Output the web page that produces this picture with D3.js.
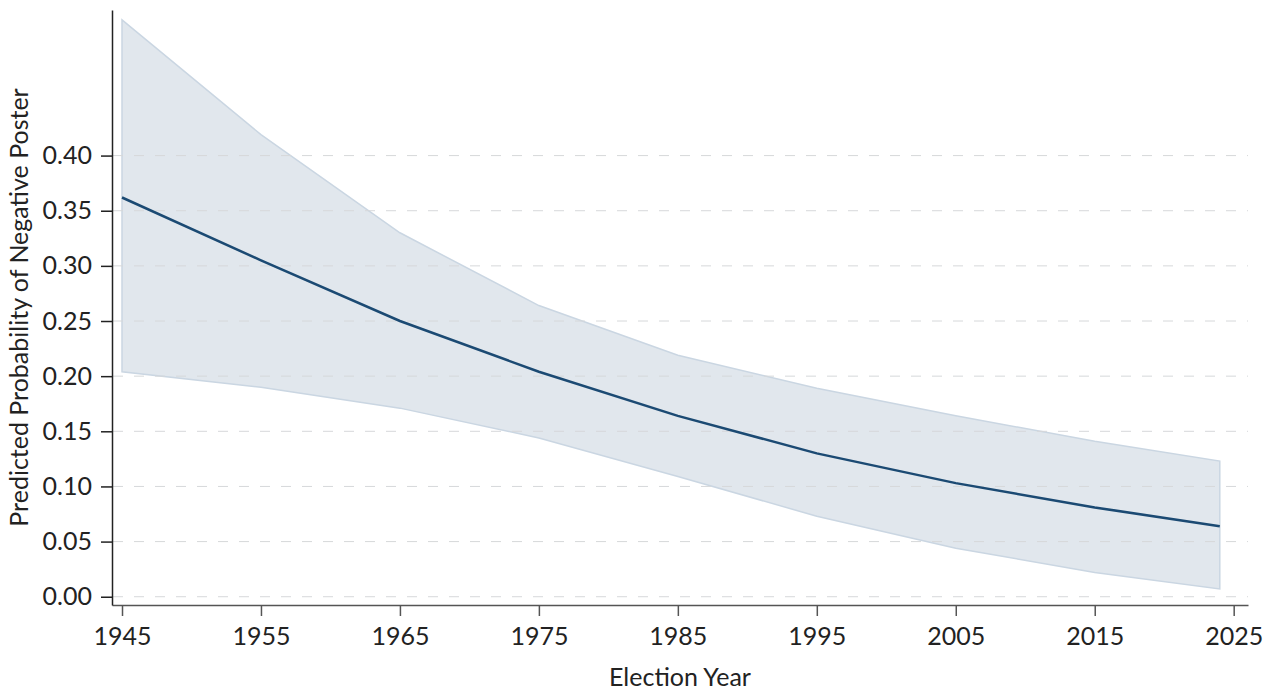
<!DOCTYPE html>
<html>
<head>
<meta charset="utf-8">
<script src="https://cdn.jsdelivr.net/npm/d3@7"></script>
<style>
  body { margin: 0; background: #fff; }
  text { font-family: Lato, "Open Sans", sans-serif; fill: #222; }
</style>
</head>
<body>
<div id="chart-area"></div>
<script>
// predicted probability by election year, with 95% band
const years = [1945, 1955, 1965, 1975, 1985, 1995, 2005, 2015, 2024];
const predicted = [0.362, 0.305, 0.250, 0.204, 0.164, 0.130, 0.103, 0.081, 0.064];
const upper = [0.523, 0.419, 0.330, 0.264, 0.219, 0.189, 0.164, 0.141, 0.123];
const lower = [0.204, 0.190, 0.171, 0.144, 0.109, 0.073, 0.044, 0.022, 0.007];

const xTicks = [1945, 1955, 1965, 1975, 1985, 1995, 2005, 2015, 2025];
const yTicks = [0, 0.05, 0.10, 0.15, 0.20, 0.25, 0.30, 0.35, 0.40];

const W = 1274, H = 691;
const LEFT = 112, RIGHT = 1248, TOP = 10, BOTTOM = 605;
const FONT = 25;

const svg = d3.select('#chart-area')
  .append('svg')
  .attr('width', W)
  .attr('height', H)

const x = d3.scaleLinear()
  .domain([1944.28, 2026.03])
  .range([LEFT, RIGHT])

const y = d3.scaleLinear()
  .domain([-0.0075, 0.532])
  .range([BOTTOM, TOP])

const data = years.map((yr, i) => ({year: yr, p: predicted[i], hi: upper[i], lo: lower[i]}));

// confidence band
const area = d3.area()
  .x(d => x(d.year))
  .y0(d => y(d.lo))
  .y1(d => y(d.hi))

svg.append('path')
  .datum(data)
  .attr('d', area)
  .attr('fill', '#e1e7ed')
  .attr('stroke', '#cad6e2')
  .attr('stroke-width', 1.5)

// dashed gridlines
svg.append('g')
  .selectAll('line')
  .data(yTicks)
  .enter().append('line')
  .attr('x1', LEFT + 1)
  .attr('x2', RIGHT)
  .attr('y1', d => y(d))
  .attr('y2', d => y(d))
  .attr('stroke', '#d6d8da')
  .attr('stroke-width', 1)
  .attr('stroke-dasharray', '10,11')

// predicted line
svg.append('path')
  .datum(data)
  .attr('d', d3.line().x(d => x(d.year)).y(d => y(d.p)))
  .attr('fill', 'none')
  .attr('stroke', '#1b4a73')
  .attr('stroke-width', 2.5)

// axes
const xAxis = svg.append('g')
  .attr('transform', `translate(0,${BOTTOM})`)
  .call(d3.axisBottom(x).tickValues(xTicks).tickFormat(d3.format('d')).tickSize(11).tickPadding(11).tickSizeOuter(0))
xAxis.select('.domain').attr('stroke', '#555').attr('stroke-width', 1.5)
xAxis.selectAll('.tick line').attr('stroke', '#555').attr('stroke-width', 1.5)
xAxis.selectAll('text').attr('font-size', FONT).attr('font-family', 'Lato').attr('fill', '#222')

const yAxis = svg.append('g')
  .attr('transform', `translate(${LEFT},0)`)
  .call(d3.axisLeft(y).tickValues(yTicks).tickFormat(d3.format('.2f')).tickSize(11).tickPadding(9).tickSizeOuter(0))
yAxis.select('.domain').attr('stroke', '#222').attr('stroke-width', 1.5)
yAxis.selectAll('.tick line').attr('stroke', '#222').attr('stroke-width', 1.5)
yAxis.selectAll('text').attr('font-size', FONT).attr('font-family', 'Lato').attr('fill', '#222')

// labels
svg.append('text')
  .attr('x', (LEFT + RIGHT) / 2)
  .attr('y', 686)
  .attr('text-anchor', 'middle')
  .attr('font-size', FONT)
  .text('Election Year')

svg.append('text')
  .attr('transform', 'rotate(-90)')
  .attr('x', -(TOP + BOTTOM) / 2)
  .attr('y', 28)
  .attr('text-anchor', 'middle')
  .attr('font-size', FONT)
  .text('Predicted Probability of Negative Poster')
</script>
</body>
</html>
